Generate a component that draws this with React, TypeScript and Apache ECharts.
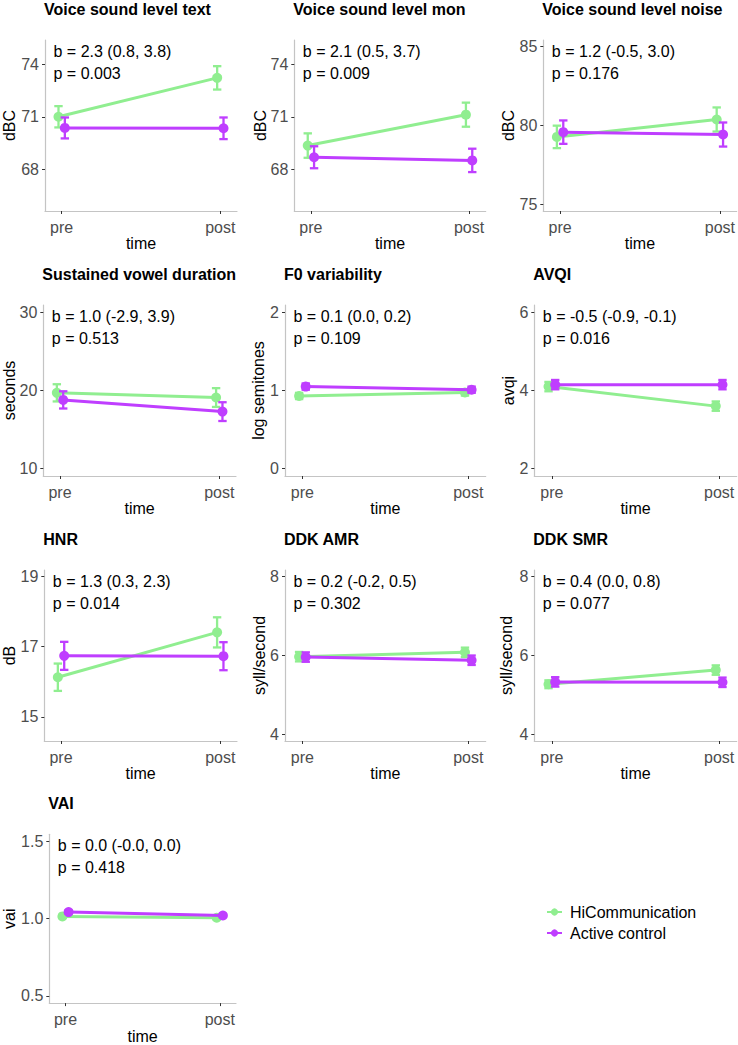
import React, { useEffect, useRef } from "react";
import * as echarts from "echarts";

const titles = [
  "Voice sound level text",
  "Voice sound level mon",
  "Voice sound level noise",
  "Sustained vowel duration",
  "F0 variability",
  "AVQI",
  "HNR",
  "DDK AMR",
  "DDK SMR",
  "VAI",
];
const yNames = ["dBC", "dBC", "dBC", "seconds", "log semitones", "avqi", "dB", "syll/second", "syll/second", "vai"];
const bText = [
  "b = 2.3 (0.8, 3.8)",
  "b = 2.1 (0.5, 3.7)",
  "b = 1.2 (-0.5, 3.0)",
  "b = 1.0 (-2.9, 3.9)",
  "b = 0.1 (0.0, 0.2)",
  "b = -0.5 (-0.9, -0.1)",
  "b = 1.3 (0.3, 2.3)",
  "b = 0.2 (-0.2, 0.5)",
  "b = 0.4 (0.0, 0.8)",
  "b = 0.0 (-0.0, 0.0)",
];
const pText = ["p = 0.003", "p = 0.009", "p = 0.176", "p = 0.513", "p = 0.109", "p = 0.016", "p = 0.014", "p = 0.302", "p = 0.077", "p = 0.418"];

const yMin = [65.6, 65.6, 74.6, 9.07, -0.093, 1.81, 14.31, 3.83, 3.83, 0.453];
const yMax = [75.4, 75.4, 85.4, 30.93, 2.093, 6.19, 19.19, 8.17, 8.17, 1.547];
const yTickLabels = [
  ["68", "71", "74"],
  ["68", "71", "74"],
  ["75", "80", "85"],
  ["10", "20", "30"],
  ["0", "1", "2"],
  ["2", "4", "6"],
  ["15", "17", "19"],
  ["4", "6", "8"],
  ["4", "6", "8"],
  ["0.5", "1.0", "1.5"],
];

const timeLabels = ["pre", "post"];
const groups = ["HiCommunication", "Active control"];

// means [pre, post] and half-widths of error bars [pre, post]
const greenMean = [
  [71.0, 73.23], [69.35, 71.12], [79.28, 80.38], [19.7, 19.1], [0.93, 0.975],
  [4.1, 3.6], [16.13, 17.41], [5.97, 6.08], [5.27, 5.63], [1.015, 1.006],
];
const greenErr = [
  [0.61, 0.67], [0.7, 0.69], [0.71, 0.76], [1.1, 1.2], [0.04, 0.04],
  [0.12, 0.12], [0.39, 0.43], [0.12, 0.12], [0.1, 0.12], [0.01, 0.01],
];
const purpleMean = [
  [70.36, 70.34], [68.68, 68.5], [79.58, 79.43], [18.8, 17.3], [1.05, 1.01],
  [4.15, 4.15], [16.74, 16.73], [5.96, 5.88], [5.33, 5.32], [1.043, 1.021],
];
const purpleErr = [
  [0.6, 0.62], [0.63, 0.67], [0.74, 0.76], [1.1, 1.2], [0.04, 0.04],
  [0.12, 0.12], [0.4, 0.4], [0.12, 0.12], [0.12, 0.12], [0.01, 0.01],
];

const GREEN = "#90EE90";
const PURPLE = "#BF3EFF";
const FONT = "Liberation Sans, Arial, sans-serif";
const FS = 16;

// layout (pixels): left, top, width, height, y-name gap
const layout = [
  { left: 45, top: 40, width: 192, height: 171, gap: 27.5 },
  { left: 294.3, top: 40, width: 191.4, height: 171, gap: 26.3 },
  { left: 543.3, top: 40, width: 193.4, height: 171, gap: 27.3 },
  { left: 43.3, top: 305, width: 192.7, height: 171, gap: 26.3 },
  { left: 285, top: 305, width: 200.7, height: 171, gap: 19 },
  { left: 534.3, top: 305, width: 202.4, height: 171, gap: 18.3 },
  { left: 44.3, top: 570, width: 192.7, height: 171, gap: 27.3 },
  { left: 285, top: 570, width: 200.7, height: 171, gap: 18 },
  { left: 534.3, top: 570, width: 202.4, height: 171, gap: 20.3 },
  { left: 49.3, top: 834.3, width: 186.7, height: 172.4, gap: 32.3 },
];

const DODGE = 0.02;

function errRender(color: string) {
  return (params: any, api: any) => {
    const x = api.value(0);
    const lo = api.value(1);
    const hi = api.value(2);
    const t = api.coord([x, hi]);
    const b = api.coord([x, lo]);
    const w = 4.2;
    const style = { stroke: color, lineWidth: 2.3, fill: null };
    return {
      type: "group",
      children: [
        { type: "line", shape: { x1: t[0], y1: t[1], x2: b[0], y2: b[1] }, style },
        { type: "line", shape: { x1: t[0] - w, y1: t[1], x2: t[0] + w, y2: t[1] }, style },
        { type: "line", shape: { x1: b[0] - w, y1: b[1], x2: b[0] + w, y2: b[1] }, style },
      ],
    };
  };
}

function buildOption() {
  const grid: any[] = [];
  const xAxis: any[] = [];
  const yAxis: any[] = [];
  const series: any[] = [];
  const title: any[] = [];
  const graphic: any[] = [];

  titles.forEach((t, i) => {
    const L = layout[i];
    grid.push({ left: L.left, top: L.top, width: L.width, height: L.height, containLabel: false });
    title.push({
      text: t,
      left: L.left - 1,
      top: L.top - 39,
      padding: 0,
      textStyle: { fontFamily: FONT, fontSize: FS, fontWeight: "bold", color: "#000" },
    });
    xAxis.push({
      type: "value",
      gridIndex: i,
      min: -0.105,
      max: 1.105,
      name: "time",
      nameLocation: "middle",
      nameGap: 24,
      nameTextStyle: { fontFamily: FONT, fontSize: FS, color: "#000" },
      axisLine: { show: true, onZero: false, lineStyle: { color: "#C4C4C4", width: 1.2 } },
      axisTick: { show: true, length: 3, customValues: [0, 1], lineStyle: { color: "#333", width: 1 } },
      axisLabel: {
        customValues: [0, 1],
        margin: 8,
        fontFamily: FONT,
        fontSize: FS,
        color: "#4D4D4D",
        formatter: (v: number) => timeLabels[Math.round(v)],
      },
      splitLine: { show: false },
    });
    const ticks = yTickLabels[i].map(Number);
    yAxis.push({
      type: "value",
      gridIndex: i,
      min: yMin[i],
      max: yMax[i],
      name: yNames[i],
      nameLocation: "middle",
      nameGap: L.gap,
      nameMoveOverlap: false,
      nameTextStyle: { fontFamily: FONT, fontSize: FS, color: "#000" },
      axisLine: { show: true, onZero: false, lineStyle: { color: "#C4C4C4", width: 1.2 } },
      axisTick: { show: true, length: 3, customValues: ticks, lineStyle: { color: "#333", width: 1 } },
      axisLabel: {
        customValues: ticks,
        margin: 6,
        fontFamily: FONT,
        fontSize: FS,
        color: "#4D4D4D",
        formatter: (v: number) => {
          const k = ticks.findIndex((tv) => Math.abs(tv - v) < 1e-9);
          return k >= 0 ? yTickLabels[i][k] : "";
        },
      },
      splitLine: { show: false },
    });

    const sets = [
      { name: groups[0], color: GREEN, mean: greenMean[i], err: greenErr[i], off: -DODGE },
      { name: groups[1], color: PURPLE, mean: purpleMean[i], err: purpleErr[i], off: DODGE },
    ];
    sets.forEach((s, gi) => {
      series.push({
        type: "custom",
        name: s.name + " error",
        xAxisIndex: i,
        yAxisIndex: i,
        renderItem: errRender(s.color),
        encode: { x: 0, y: [1, 2] },
        clip: false,
        silent: true,
        z: 2 + gi * 2,
        data: s.mean.map((m, k) => [k + s.off, m - s.err[k], m + s.err[k]]),
      });
      series.push({
        type: "line",
        name: s.name,
        xAxisIndex: i,
        yAxisIndex: i,
        symbol: "circle",
        symbolSize: 10,
        showSymbol: true,
        clip: false,
        z: 3 + gi * 2,
        itemStyle: { color: s.color },
        lineStyle: { color: s.color, width: 3 },
        data: s.mean.map((m, k) => [k + s.off, m]),
      });
    });

    graphic.push({
      type: "text",
      x: L.left + 8.5,
      y: L.top + 11,
      style: { text: bText[i], fontFamily: FONT, fontSize: FS, fill: "#000", verticalAlign: "middle", align: "left" },
    });
    graphic.push({
      type: "text",
      x: L.left + 8.5,
      y: L.top + 33,
      style: { text: pText[i], fontFamily: FONT, fontSize: FS, fill: "#000", verticalAlign: "middle", align: "left" },
    });
  });

  return {
    animation: false,
    backgroundColor: "#fff",
    title,
    grid,
    xAxis,
    yAxis,
    series,
    graphic,
    legend: {
      data: groups,
      orient: "vertical",
      left: 541,
      top: 899,
      itemWidth: 15,
      itemHeight: 9,
      itemGap: 5,
      textStyle: { fontFamily: FONT, fontSize: FS, color: "#000", padding: [0, 0, 0, 3] },
    },
  };
}

export default function App() {
  const ref = useRef<HTMLDivElement>(null);
  useEffect(() => {
    if (!ref.current) return;
    const chart = echarts.init(ref.current, null, { renderer: "svg" });
    chart.setOption(buildOption() as any);
    return () => chart.dispose();
  }, []);
  return (
    <div
      ref={ref}
      style={{ position: "absolute", left: 0, top: 0, width: 738, height: 1045, background: "#fff" }}
    />
  );
}
